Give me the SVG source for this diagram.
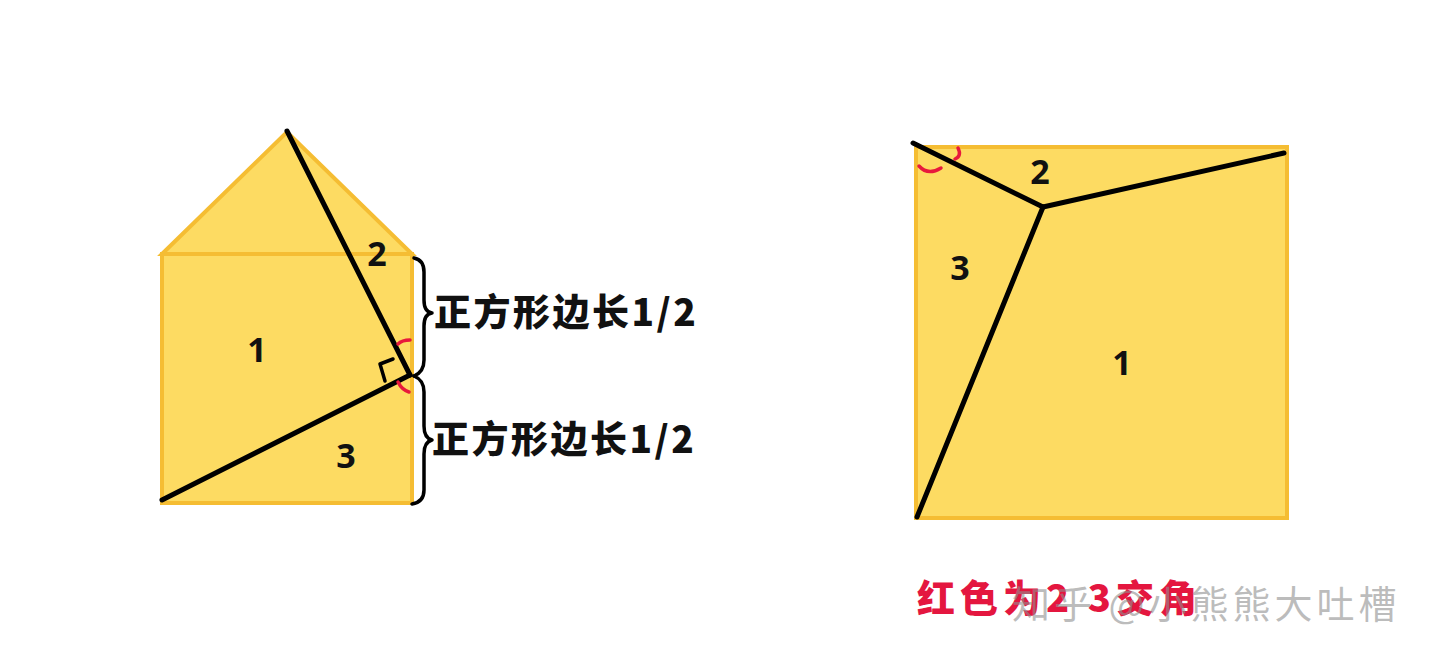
<svg xmlns="http://www.w3.org/2000/svg" width="1440" height="663" viewBox="0 0 1440 663">
<style>
.shape{fill:#FDDB62;stroke:#F5BD33;stroke-width:4;stroke-linejoin:miter}
.cut{fill:none;stroke:#000;stroke-width:5;stroke-linecap:round}
.thin{fill:none;stroke:#000;stroke-width:3.5;stroke-linecap:round;stroke-linejoin:round}
.red{fill:none;stroke:#E8193C;stroke-width:3.5;stroke-linecap:round}
.num{font-family:"Noto Sans","Noto Sans CJK SC",sans-serif;font-weight:700;font-size:34px;fill:#111;text-anchor:middle}
.lbl{font-family:"Noto Sans CJK SC",sans-serif;font-weight:900;font-size:37px;fill:#111;letter-spacing:2.5px}
.redtxt{font-family:"Noto Sans CJK SC",sans-serif;font-weight:900;font-size:38px;fill:#E4163F;letter-spacing:5px}
.wm{font-family:"Noto Sans CJK SC",sans-serif;font-weight:400;font-size:38px;fill:#8f8f8f;fill-opacity:0.6;letter-spacing:4px}
</style>
<rect width="1440" height="663" fill="#fff"/>
<g id="left-figure">
<polygon class="shape" points="162,254 287,132 412,254"/>
<rect class="shape" x="162" y="254" width="250" height="249"/>
<line x1="162" y1="254" x2="412" y2="254" stroke="#F5BD33" stroke-width="2"/>
</g>
<g id="left-cuts">
<line class="cut" x1="287" y1="131" x2="410" y2="375"/>
<line class="cut" x1="162" y1="500" x2="410" y2="375"/>
<polyline class="thin" points="393,359 380,364 385,381"/>
<path class="red" d="M398,344 Q402,340 410,340"/>
<path class="red" d="M398,382 Q402,390 409,392"/>
</g>
<g id="left-labels">
<text class="num" x="377" y="266">2</text>
<text class="num" x="257" y="362">1</text>
<text class="num" x="346" y="468">3</text>
</g>
<g id="braces">
<path class="thin" d="M414,258 Q424,260 424,272 L424,300 Q424,312 432,313 Q424,314 424,326 L424,360 Q424,372 414,376"/>
<path class="thin" d="M414,376 Q424,380 424,392 L424,426 Q424,438 432,440 Q424,442 424,454 L424,490 Q424,502 412,504"/>
<text class="lbl" x="434" y="326">正方形边长1/2</text>
<text class="lbl" x="432" y="453">正方形边长1/2</text>
</g>
<g id="right-figure">
<rect class="shape" x="916" y="147" width="371" height="371"/>
</g>
<g id="right-cuts">
<line class="cut" x1="913" y1="143" x2="1043" y2="207"/>
<line class="cut" x1="1043" y1="207" x2="1284" y2="153"/>
<line class="cut" x1="1043" y1="207" x2="917" y2="517"/>
<path class="red" d="M919,166 Q928,176 941,168"/>
<path class="red" d="M958,148 Q962,156 955,159"/>
</g>
<g id="right-labels">
<text class="num" x="1040" y="184">2</text>
<text class="num" x="960" y="280">3</text>
<text class="num" x="1122" y="375">1</text>
</g>
<g id="caption">
<text class="redtxt" x="917" y="612">红色为2 3交角</text>
<text class="wm" x="1012" y="618">知乎 @小熊熊大吐槽</text>
</g>
</svg>
